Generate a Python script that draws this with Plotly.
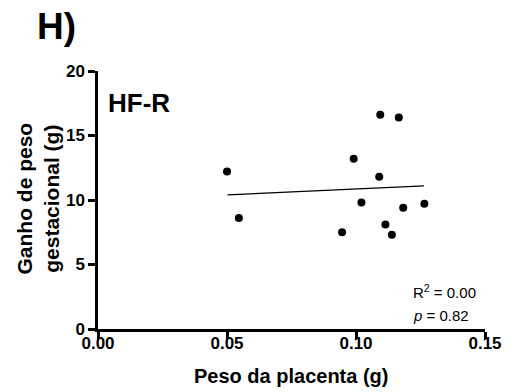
import plotly.graph_objects as go

# Data
placenta_g = [0.0500, 0.0546, 0.0946, 0.0991, 0.1021, 0.1090, 0.1094, 0.1114, 0.1139, 0.1166, 0.1183, 0.1265]
ganho_g = [12.2, 8.6, 7.5, 13.2, 9.8, 11.8, 16.6, 8.1, 7.3, 16.4, 9.4, 9.7]

fit_x = [0.0502, 0.1263]
fit_y = [10.4, 11.1]

x_ticks = [0.0, 0.05, 0.10, 0.15]
x_ticktext = ["0.00", "0.05", "0.10", "0.15"]
y_ticks = [0, 5, 10, 15, 20]
y_ticktext = ["0", "5", "10", "15", "20"]

W, H = 516, 392
L, R, T, B = 98, 31, 71, 63
PW, PH = W - L - R, H - T - B

def px(xp):
    return (xp - L) / PW

def py(yp):
    return (H - B - yp) / PH

FONT = "Liberation Sans"

fig = go.Figure()
fig.add_trace(go.Scatter(
    x=fit_x, y=fit_y, mode="lines",
    line=dict(color="black", width=1.2), showlegend=False, hoverinfo="skip"))
fig.add_trace(go.Scatter(
    x=placenta_g, y=ganho_g, mode="markers",
    marker=dict(color="black", size=8, line=dict(width=0)), showlegend=False))

axis_common = dict(
    showgrid=False, zeroline=False, showline=True, linecolor="black", linewidth=2.5,
    ticks="outside", ticklen=7, tickwidth=2.5, tickcolor="black",
    tickfont=dict(family=FONT, size=17, color="black", weight="bold"),
)

fig.update_xaxes(range=[0, 0.15], tickmode="array", tickvals=x_ticks,
                 ticktext=x_ticktext, ticklabelstandoff=-10,
                 **axis_common)
fig.update_yaxes(range=[0, 20], tickmode="array", tickvals=y_ticks,
                 ticktext=y_ticktext,
                 **axis_common)

annotations = [
    dict(text="<b>H)</b>", x=px(35), y=py(4), xanchor="left", yanchor="top",
         font=dict(family=FONT, size=37, color="black")),
    dict(text="<b>HF-R</b>", x=px(106), y=py(86), xanchor="left", yanchor="top",
         font=dict(family=FONT, size=26, color="black")),
    dict(text="<b>Peso da placenta (g)</b>", x=0.5, y=py(363), xanchor="center", yanchor="top",
         font=dict(family=FONT, size=20, color="black")),
    dict(text="<b>Ganho de peso<br>gestacional (g)</b>", x=px(37.5), y=py(198),
         xanchor="center", yanchor="middle", textangle=-90,
         font=dict(family=FONT, size=21, color="black")),
    dict(text="R<sup>2</sup> = 0.00", x=px(411), y=py(303), xanchor="left", yanchor="bottom",
         font=dict(family=FONT, size=15, color="black")),
    dict(text="<i>p</i> = 0.82", x=px(411), y=py(326), xanchor="left", yanchor="bottom",
         font=dict(family=FONT, size=15, color="black")),
]
for a in annotations:
    a.update(xref="paper", yref="paper", showarrow=False)

fig.update_layout(
    width=W, height=H, autosize=False,
    margin=dict(l=L, r=R, t=T, b=B, pad=0),
    paper_bgcolor="white", plot_bgcolor="white",
    annotations=annotations,
    showlegend=False,
)

fig.write_html("out.html")
